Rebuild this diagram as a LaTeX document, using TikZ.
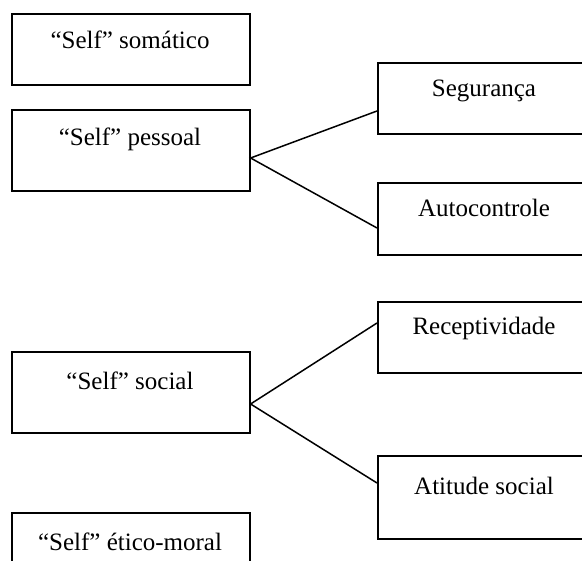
\documentclass[tikz,border=0pt]{standalone}
\usepackage{fontspec}
\setmainfont{Liberation Serif}
\begin{document}
\begin{tikzpicture}[x=1pt,y=-1pt,
  box/.style={draw, line width=1.6pt, inner sep=0pt, anchor=north west, minimum width=#1},
  box/.default=238pt,
  lbl/.style={anchor=base, inner sep=0pt, font=\fontsize{25}{30}\selectfont},
  conn/.style={line width=1.5pt}]
\useasboundingbox (0,0) rectangle (582,561);
\begin{scope}
\clip (0,0) rectangle (582,561);
% left boxes
\node[box, minimum height=71pt] (b1) at (11,13) {};
\node[box, minimum height=81pt] (b2) at (11,109) {};
\node[box, minimum height=81pt] (b3) at (11,351) {};
\node[box, minimum height=100pt] (b4) at (11,512) {};
% right boxes
\node[box=214pt, minimum height=71pt] (r1) at (377,62) {};
\node[box=214pt, minimum height=72pt] (r2) at (377,182) {};
\node[box=214pt, minimum height=71pt] (r3) at (377,301) {};
\node[box=214pt, minimum height=83pt] (r4) at (377,455) {};
% labels
\node[lbl] (t1) at (130,49) {“Self” somático};
\node[lbl] (t2) at (130,146) {“Self” pessoal};
\node[lbl] (t3) at (130,390) {“Self” social};
\node[lbl] (t4) at (130,551) {“Self” ético-moral};
\node[lbl] (s1) at (484,96.5) {Segurança};
\node[lbl] (s2) at (484,216.5) {Autocontrole};
\node[lbl] (s3) at (484,335) {Receptividade};
\node[lbl] (s4) at (484,495) {Atitude social};
% connection points
\coordinate (p2) at ([yshift=-49pt]b2.north east);
\coordinate (p3) at ([yshift=-53pt]b3.north east);
\coordinate (q1) at ([yshift=-49pt]r1.north west);
\coordinate (q2) at ([yshift=-46pt]r2.north west);
\coordinate (q3) at ([yshift=-22pt]r3.north west);
\coordinate (q4) at ([yshift=-28pt]r4.north west);
\draw[conn] (q1) -- (p2) -- (q2);
\draw[conn] (q3) -- (p3) -- (q4);
\end{scope}
\end{tikzpicture}
\end{document}
